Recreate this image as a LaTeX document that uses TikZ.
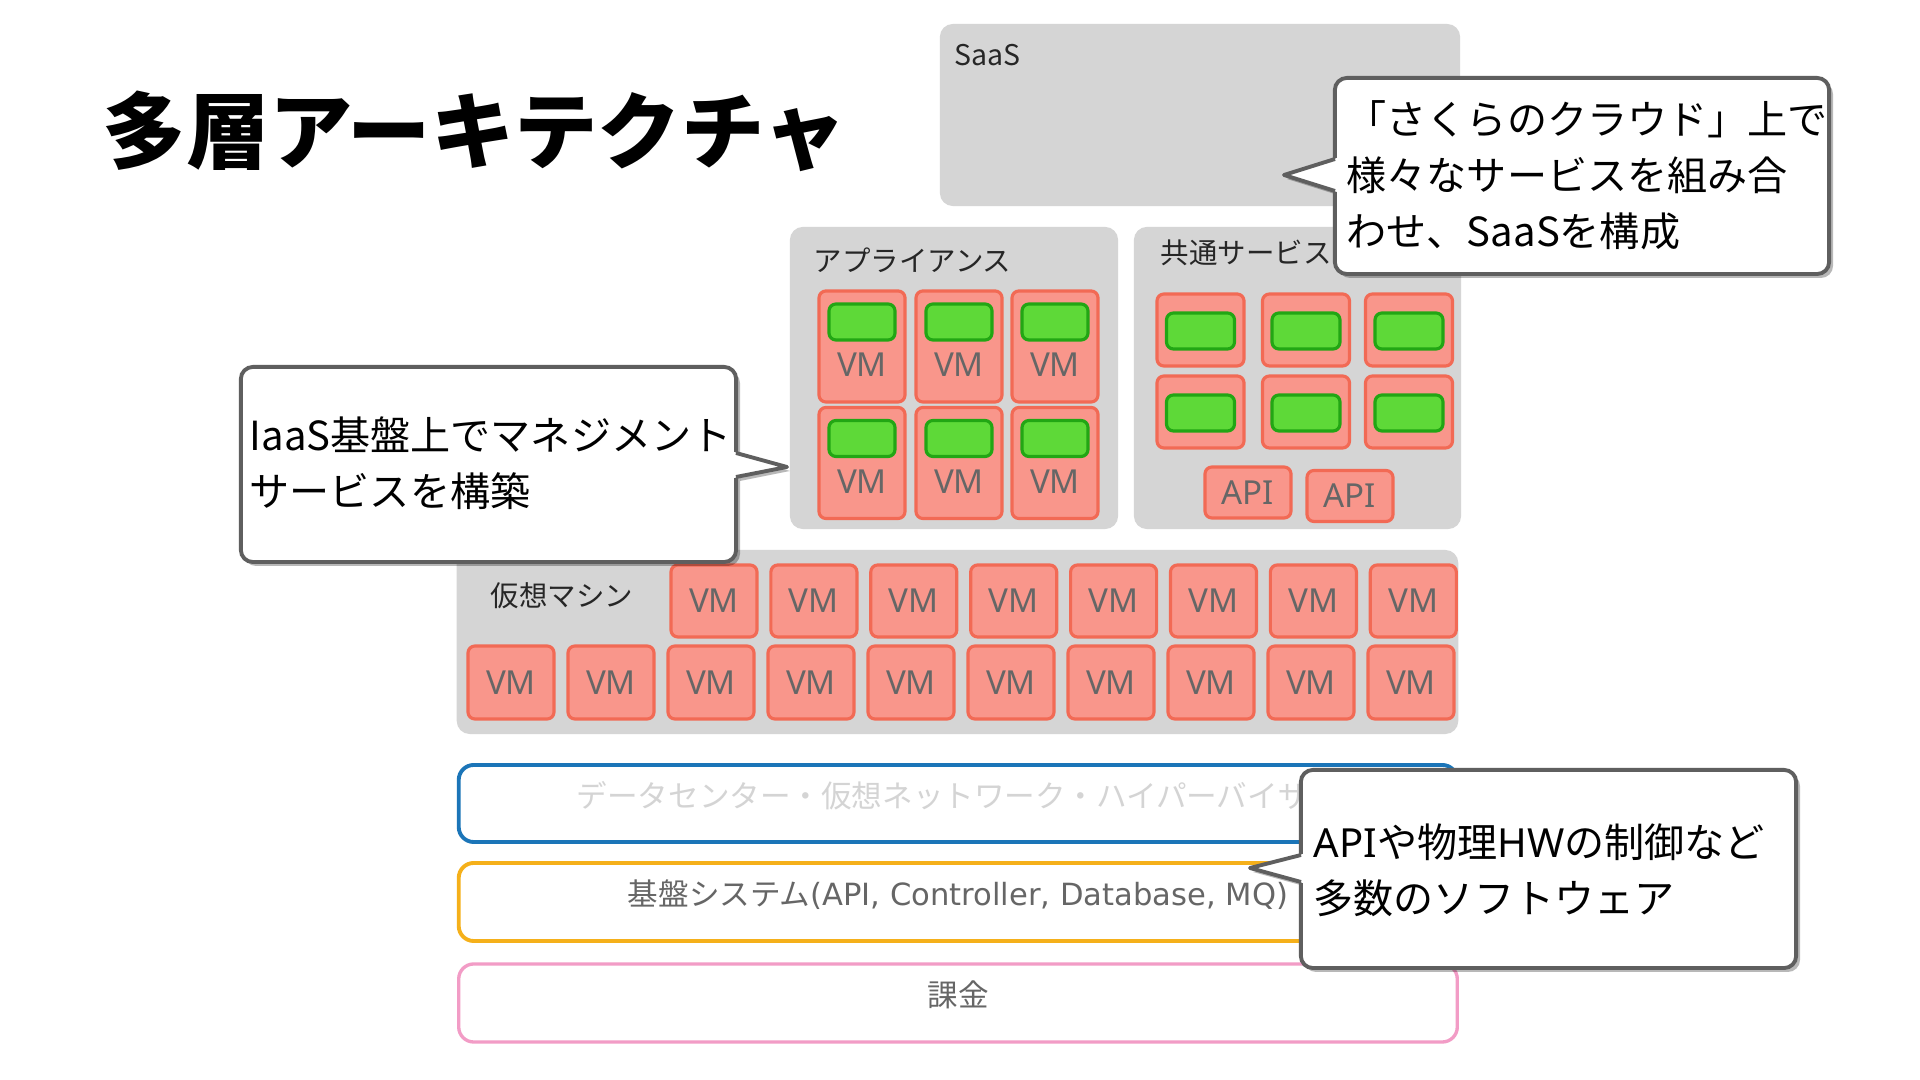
\documentclass[tikz,border=0pt]{standalone}
\usepackage{fontspec}
\setmainfont{Noto Sans CJK JP}
\newfontfamily\mylatin{Noto Sans}
\newfontfamily\mywide{DejaVu Sans}
\usetikzlibrary{calc}
\definecolor{graybg}{HTML}{D5D5D5}
\definecolor{vmfill}{HTML}{F9968B}
\definecolor{vmdraw}{HTML}{F26A55}
\definecolor{grfill}{HTML}{5ED938}
\definecolor{grdraw}{HTML}{22A614}
\definecolor{vmtext}{HTML}{666666}
\definecolor{barblue}{HTML}{1B75B8}
\definecolor{baryellow}{HTML}{F5B01A}
\definecolor{barpink}{HTML}{F29CC6}
\definecolor{dctext}{HTML}{D4D4D4}
\definecolor{bartext}{HTML}{666666}
\definecolor{callborder}{HTML}{5F5F5F}
\newcommand{\mytitlefont}{\fontsize{23.7pt}{28pt}\selectfont\bfseries}
\newcommand{\mylabfont}{\fontsize{8.1pt}{10pt}\selectfont}
\newcommand{\myvmfont}{\fontsize{9.4pt}{11pt}\selectfont\mylatin}
\newcommand{\mybarfont}{\fontsize{8.7pt}{10pt}\selectfont}
\newcommand{\mycallfont}{\fontsize{11.4pt}{15.9pt}\selectfont}
\tikzset{
  graybox/.style={fill=graybg, draw=none, rounded corners=0.13cm, inner sep=0pt},
  vmbox/.style={fill=vmfill, draw=vmdraw, line width=0.9pt, rounded corners=0.07cm, inner sep=0pt, text=vmtext, font=\myvmfont},
  greenbox/.style={fill=grfill, draw=grdraw, line width=0.9pt, rounded corners=0.07cm, inner sep=0pt, minimum height=0.36cm},
  vmlabel/.style={text=vmtext, font=\myvmfont, inner sep=0pt},
  boxlabel/.style={font=\mylabfont, text=black!85, inner sep=0pt, anchor=west},
  barbox/.style={fill=white, line width=1.1pt, rounded corners=0.15cm, minimum width=9.98cm, inner sep=0pt},
  bartxt/.style={font=\mybarfont, inner sep=0pt},
  callout/.style={fill=white, draw=callborder, line width=1.1pt, rounded corners=0.12cm, inner sep=0pt},
  calloutline/.style={draw=callborder, line width=1.1pt, line join=round},
  callshadow/.style={fill=black, opacity=0.28},
  calltext/.style={font=\mycallfont, align=left, inner sep=0pt, anchor=west}
}
\begin{document}
\begin{tikzpicture}[x=0.01cm,y=-0.01cm]
\useasboundingbox[fill=white] (0,0) rectangle (1920,1080);

% title
\node[font=\mytitlefont, inner sep=0pt, anchor=west] (title) at (102,131) {多層アーキテクチャ};

% SaaS box
\node[graybox, minimum width=5.20cm, minimum height=1.82cm] (saas) at (1200,115) {};
\node[boxlabel] (saaslab) at (954,55) {SaaS};

% appliance box
\node[graybox, minimum width=3.28cm, minimum height=3.02cm] (appl) at (954,378) {};
\node[boxlabel] (appllab) at (813,260) {アプライアンス};
\foreach \c/\x in {1/862,2/959,3/1055}{
  \foreach \r/\y in {1/346.5,2/463}{
    \node[vmbox, minimum width=0.86cm, minimum height=1.11cm] (ap\r\c) at (\x,\y) {};
    \node[greenbox, minimum width=0.66cm] (apg\r\c) at (\x,\y-24.5) {};
    \node[vmlabel] (apt\r\c) at (\x,\y+18.5) {VM};
  }
}

% common services box
\node[graybox, minimum width=3.27cm, minimum height=3.02cm] (common) at (1297.5,378) {};
\node[boxlabel] (commonlab) at (1160,253) {共通サービス};
\foreach \c/\x in {1/1200.5,2/1306,3/1409}{
  \foreach \r/\y in {1/330,2/412}{
    \node[vmbox, minimum width=0.87cm, minimum height=0.72cm] (cs\r\c) at (\x,\y) {};
    \node[greenbox, minimum width=0.68cm] (csg\r\c) at (\x,\y+1) {};
  }
}
\node[vmbox, minimum width=0.86cm, minimum height=0.51cm] (api1) at (1248,492.5) {API};
\node[vmbox, minimum width=0.86cm, minimum height=0.51cm] (api2) at (1350,496) {API};

% virtual machines
\node[graybox, minimum width=10.01cm, minimum height=1.84cm] (vmarea) at (957.5,642) {};
\node[boxlabel] (vmarealab) at (490,596) {仮想マシン};
\foreach \i in {0,...,7}{
  \node[vmbox, minimum width=0.86cm, minimum height=0.72cm] (vma\i) at ({714+99.9*\i},601) {VM};
}
\foreach \i in {0,...,9}{
  \node[vmbox, minimum width=0.86cm, minimum height=0.73cm] (vmb\i) at ({511+100*\i},682.5) {VM};
}

% bars
\node[barbox, draw=barblue, minimum height=0.77cm] (bardc) at (958,803.5) {};
\node[bartxt, text=dctext] (bardctxt) at (958,796) {データセンター・仮想ネットワーク・ハイパーバイザー};
\node[barbox, draw=baryellow, minimum height=0.78cm] (barsys) at (958,902) {};
\node[bartxt, text=bartext] (barsystxt) at (958,895) {基盤システム{\mywide(API, Controller, Database, MQ)}};
\node[barbox, draw=barpink, line width=0.95pt, minimum height=0.78cm] (barbill) at (958,1003) {};
\node[bartxt, text=bartext] (barbilltxt) at (958,995) {課金};

% callout 1 (IaaS)
\fill[callshadow, rounded corners=0.12cm] (244,371) rectangle (740,566);
\fill[callshadow] (740,457) -- (790,471) -- (740,481) -- cycle;
\node[callout, minimum width=4.95cm, minimum height=1.95cm] (c1) at (488.5,464.5) {};
\coordinate (c1tip) at (787,467);
\fill[white] (734,452) -- (c1tip) -- (734,478) -- cycle;
\draw[calloutline] (736,453) -- (c1tip) -- (736,477);
\node[calltext] (c1txt) at (249,463) {IaaS基盤上でマネジメント\\サービスを構築};

% callout 2 (SaaS)
\fill[callshadow, rounded corners=0.12cm] (1338,82) rectangle (1833,278);
\fill[callshadow] (1338,163) -- (1287,179) -- (1338,195) -- cycle;
\node[callout, minimum width=4.94cm, minimum height=1.96cm] (c2) at (1582,176) {};
\coordinate (c2tip) at (1284,175);
\fill[white] (1337,158) -- (c2tip) -- (1337,192) -- cycle;
\draw[calloutline] (1335,159) -- (c2tip) -- (1335,191);
\node[calltext] (c2txt) at (1346,175) {「さくらのクラウド」上で\\様々なサービスを組み合\\わせ、SaaSを構成};

% callout 3 (API)
\fill[callshadow, rounded corners=0.12cm] (1304,774) rectangle (1800,972);
\fill[callshadow] (1304,859) -- (1253,872) -- (1304,886) -- cycle;
\node[callout, minimum width=4.95cm, minimum height=1.98cm] (c3) at (1548.5,869) {};
\coordinate (c3tip) at (1250,868);
\fill[white] (1303,854) -- (c3tip) -- (1303,883) -- cycle;
\draw[calloutline] (1301,855) -- (c3tip) -- (1301,882);
\node[calltext] (c3txt) at (1313,870) {{\mylatin API}や物理{\mylatin HW}の制御など\\多数のソフトウェア};
\end{tikzpicture}
\end{document}
